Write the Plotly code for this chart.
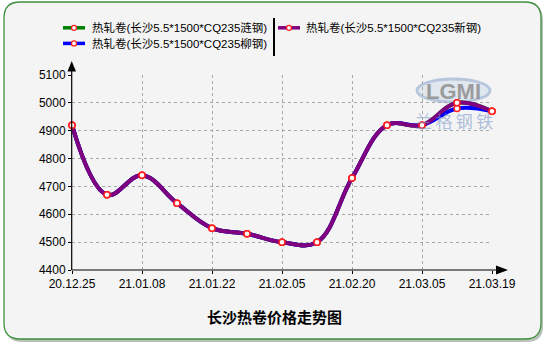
import plotly.graph_objects as go

# ---------------- data ----------------
dates = ["20.12.25", "21.01.01", "21.01.08", "21.01.15", "21.01.22", "21.01.29",
         "21.02.05", "21.02.12", "21.02.20", "21.02.26", "21.03.05", "21.03.12", "21.03.19"]
tick_labels = ["20.12.25", "21.01.08", "21.01.22", "21.02.05", "21.02.20", "21.03.05", "21.03.19"]
lian_gang = [4920, 4670, 4740, 4640, 4550, 4530, 4500, 4500, 4730, 4920, 4920, 5000, 4970]
liu_gang = [4920, 4670, 4740, 4640, 4550, 4530, 4500, 4500, 4730, 4920, 4920, 4980, 4970]
xin_gang = [4920, 4670, 4740, 4640, 4550, 4530, 4500, 4500, 4730, 4920, 4920, 5000, 4970]
series_names = ["热轧卷(长沙5.5*1500*CQ235涟钢)", "热轧卷(长沙5.5*1500*CQ235柳钢)",
                "热轧卷(长沙5.5*1500*CQ235新钢)"]
series_colors = ["#008000", "#0000ff", "#800080"]
y_ticks = [4400, 4500, 4600, 4700, 4800, 4900, 5000, 5100]
title_text = "长沙热卷价格走势图"

# ---------------- geometry ----------------
W, H = 544, 343
L, R, T, B = 72, 52, 75, 73
PW, PH = W - L - R, H - T - B


def px(x):
    return (x - L) / PW


def py(y):
    return (H - B - y) / PH


fig = go.Figure()
for name, vals, col in zip(series_names, [lian_gang, liu_gang, xin_gang], series_colors):
    fig.add_trace(go.Scatter(
        x=dates, y=vals, name=name, mode="lines+markers",
        line=dict(color=col, width=4, shape="spline", smoothing=1.1),
        marker=dict(symbol="circle", size=6, color="white",
                    line=dict(color="#ff2020", width=1.5)),
        showlegend=False, cliponaxis=False,
    ))

shapes = []


def rrect(x0, y0, x1, y1, r):
    X0, X1 = px(x0), px(x1)
    Y0, Y1 = py(y0), py(y1)
    rx, ry = r / PW, r / PH
    return (f"M{X0+rx},{Y0} L{X1-rx},{Y0} Q{X1},{Y0} {X1},{Y0-ry} "
            f"L{X1},{Y1+ry} Q{X1},{Y1} {X1-rx},{Y1} L{X0+rx},{Y1} "
            f"Q{X0},{Y1} {X0},{Y1+ry} L{X0},{Y0-ry} Q{X0},{Y0} {X0+rx},{Y0} Z")


shapes.append(dict(type="path", xref="paper", yref="paper", layer="below",
                   path=rrect(6, 4, 543, 342, 16), fillcolor="#b9c2b9",
                   line=dict(width=0)))
shapes.append(dict(type="path", xref="paper", yref="paper", layer="below",
                   path=rrect(4, 2, 541, 339, 16), fillcolor="#f4f4f4",
                   line=dict(color="#3d8f3d", width=1.3)))
# watermark ellipse
shapes.append(dict(type="circle", xref="paper", yref="paper", layer="below",
                   x0=px(417), x1=px(490), y0=py(102), y1=py(79),
                   fillcolor="rgba(190,205,225,0.35)",
                   line=dict(color="#b7c6dc", width=3)))
# axes with arrows
shapes.append(dict(type="line", xref="paper", yref="paper",
                   x0=px(71.7), x1=px(71.7), y0=py(270), y1=py(70),
                   line=dict(color="black", width=1.2)))
shapes.append(dict(type="path", xref="paper", yref="paper",
                   path=f"M{px(67.5)},{py(71.5)} L{px(76)},{py(71.5)} L{px(71.7)},{py(61)} Z",
                   fillcolor="black", line=dict(width=0)))
shapes.append(dict(type="line", xref="paper", yref="paper",
                   x0=px(71.7), x1=px(498), y0=py(270), y1=py(270),
                   line=dict(color="black", width=1.2)))
shapes.append(dict(type="path", xref="paper", yref="paper",
                   path=f"M{px(496)},{py(265.5)} L{px(496)},{py(274.5)} L{px(508)},{py(270)} Z",
                   fillcolor="black", line=dict(width=0)))

annotations = []
# custom legend
legend_rows = [(63, 89.6, 27.8, 0), (63, 89.6, 43.4, 1), (278, 304, 27.8, 2)]
for sx, tx, ty, idx in legend_rows:
    shapes.append(dict(type="line", xref="paper", yref="paper",
                       x0=px(sx), x1=px(sx + 22), y0=py(ty), y1=py(ty),
                       line=dict(color=series_colors[idx], width=3.5)))
    shapes.append(dict(type="circle", xref="paper", yref="paper",
                       x0=px(sx + 8.5), x1=px(sx + 13.5), y0=py(ty + 2.5), y1=py(ty - 2.5),
                       fillcolor="white", line=dict(color="#ff2020", width=1.3)))
    annotations.append(dict(xref="paper", yref="paper", x=px(tx), y=py(ty),
                            xanchor="left", yanchor="middle", showarrow=False,
                            text=series_names[idx],
                            font=dict(family="Liberation Sans, Noto Sans CJK SC",
                                      size=11.5, color="black")))
shapes.append(dict(type="line", xref="paper", yref="paper",
                   x0=px(274), x1=px(274), y0=py(18), y1=py(56),
                   line=dict(color="black", width=2)))

# watermark texts
annotations.append(dict(xref="paper", yref="paper", x=px(453.5), y=py(91),
                        xanchor="center", yanchor="middle", showarrow=False,
                        text="<b>LGMI</b>", opacity=0.85,
                        font=dict(family="Liberation Sans", size=22, color="#8e8e8e")))
annotations.append(dict(xref="paper", yref="paper", x=px(454), y=py(120),
                        xanchor="center", yanchor="middle", showarrow=False,
                        text="兰\u2009格\u2009钢\u2009铁", opacity=0.6,
                        font=dict(family="Noto Sans CJK SC", size=17, color="#7f9ccc")))
# title
annotations.append(dict(xref="paper", yref="paper", x=px(274), y=py(316),
                        xanchor="center", yanchor="middle", showarrow=False,
                        text=f"<b>{title_text}</b>",
                        font=dict(family="Noto Sans CJK SC", size=15, color="black")))

fig.update_layout(
    width=W, height=H,
    margin=dict(l=L, r=R, t=T, b=B, pad=0),
    paper_bgcolor="white", plot_bgcolor="rgba(0,0,0,0)",
    font=dict(family="Liberation Sans", size=12, color="black"),
    shapes=shapes, annotations=annotations, showlegend=False,
    xaxis=dict(type="category", categoryorder="array", categoryarray=dates,
               range=[0, 12], tickvals=tick_labels, ticktext=tick_labels,
               showgrid=True, gridcolor="#a8a8a8", griddash="dot", gridwidth=1,
               ticks="outside", ticklen=3, tickcolor="black", showline=False,
               zeroline=False, tickfont=dict(size=12, family="Liberation Sans")),
    yaxis=dict(range=[4400, 5100], tickvals=y_ticks,
               showgrid=True, gridcolor="#a8a8a8", griddash="dot", gridwidth=1,
               ticks="outside", ticklen=3, tickcolor="black", showline=False,
               zeroline=False, tickfont=dict(size=12, family="Liberation Sans")),
)

fig.write_html("out.html")
